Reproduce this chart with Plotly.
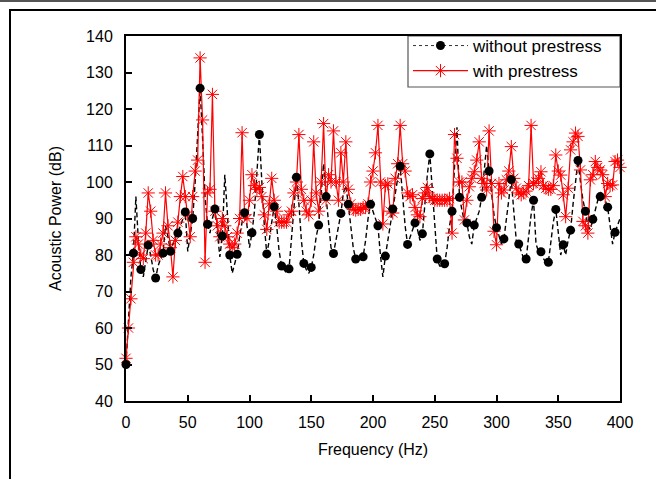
import plotly.graph_objects as go

# Frequency grid (Hz)
freq = list(range(0, 401, 2))

# Acoustic power without prestress (dB)
without_prestress = [
    50, 62, 74, 80.5, 96, 84, 76, 74, 79, 82.7,
    80, 76, 73.7, 77, 79, 80.5, 88, 85, 81, 83,
    85, 86, 88, 90, 91.8, 81, 85, 90, 100, 113,
    125.7, 112, 96, 88.4, 86, 90, 92.6, 86, 79.5, 85.2,
    102, 92, 80, 75, 78, 80.2, 85, 89, 91.6, 88,
    82, 86.1, 92, 103, 113, 100, 88, 80.3, 84, 89,
    93.2, 88, 81, 77, 76, 75, 76.2, 84, 94, 101.3,
    94, 84, 77.7, 76, 75, 76.6, 80, 85, 88.2, 96,
    105, 96, 88, 82, 80.4, 84, 88, 91.4, 97, 99,
    93.9, 88, 82, 78.9, 78, 79, 79.5, 84, 90, 93.9,
    92, 90, 88, 80, 74, 79.7, 84, 89, 92.6, 97,
    101, 104.3, 96, 88, 82.9, 85, 87, 88.8, 87, 84,
    85.8, 94, 102, 107.7, 98, 86, 78.9, 77, 77, 77.6,
    82, 88, 92, 104, 115, 95.8, 92, 89, 88.8, 85,
    83, 88.2, 90, 92, 95.8, 104, 110, 103, 97, 91,
    87.5, 85, 83, 84.4, 90, 96, 100.7, 92, 84, 83,
    81, 79, 78.9, 85, 91, 95, 83, 81, 80.9, 79,
    78, 78, 84, 89, 92.5, 87, 80, 82.8, 80, 84,
    86.8, 94, 101, 105.9, 100, 95, 92, 88, 87, 89.8,
    92, 95, 96, 96, 95, 93.1, 88, 83, 86.2, 88,
    90,
]

# Acoustic power with prestress (dB)
with_prestress = [
    51.7, 60, 68, 78, 85, 83, 80, 79, 86, 97,
    92, 84, 80, 80, 83, 86, 97, 88, 82, 74,
    84, 89, 96, 101.5, 96, 91, 85, 96, 103, 106,
    134, 117, 78, 97, 98, 124, 92, 88, 85, 90,
    88, 85, 83, 82, 83, 86, 90, 113.5, 91, 90,
    95, 102, 99, 98, 98.5, 96, 91, 87, 94, 101,
    95, 92, 89, 89, 89, 89, 91, 92, 97, 100,
    113, 98, 95, 92, 91, 95, 111, 97, 92, 100,
    116, 95, 102, 100, 114, 100, 95, 108, 100, 111,
    98, 94, 92.5, 92.3, 92.5, 92.5, 93, 93, 94, 100,
    103, 108, 115.5, 100, 88.5, 99, 99.5, 92, 91.5, 101,
    105, 115.5, 105, 103, 97, 96, 96.5, 93, 91, 90.5,
    95.5, 97, 98.5, 96, 95.5, 95, 95, 95, 95, 95,
    95, 95.5, 86, 113, 106.5, 100, 100, 89.6, 95, 98.7,
    101, 102.8, 106, 111, 101, 99.6, 97.8, 114, 99.6, 86.5,
    82.8, 99.6, 97, 97.8, 100.6, 103, 109.7, 101, 98.3, 97,
    96.5, 97, 97.5, 99, 115.5, 99.6, 100, 101, 102.8, 99,
    98.3, 98, 98, 99, 107.4, 103, 101.9, 96.5, 90.5, 98.3,
    108.8, 111, 113.4, 112.5, 103.3, 89.2, 88, 86, 100.6, 102,
    105.6, 104, 103.3, 102, 96, 99.6, 99, 99.2, 105.6, 106,
    104,
]

x_ticks = [0, 50, 100, 150, 200, 250, 300, 350, 400]
y_ticks = [40, 50, 60, 70, 80, 90, 100, 110, 120, 130, 140]

FONT = "Liberation Sans, Arial, sans-serif"

fig = go.Figure()

# black dense dashed line
fig.add_trace(go.Scatter(
    x=freq, y=without_prestress, mode="lines",
    line=dict(color="black", width=1.4, dash="5px,3px"),
    showlegend=False, hoverinfo="skip", cliponaxis=False,
))

# red series
fig.add_trace(go.Scatter(
    x=freq, y=with_prestress, mode="lines+markers", name="with prestress",
    line=dict(color="#ff0000", width=1.2),
    marker=dict(symbol="asterisk-open", size=11,
                line=dict(color="rgba(255,90,90,0.7)", width=1)),
    legendrank=2, cliponaxis=False,
))

# black markers every third sample
fig.add_trace(go.Scatter(
    x=freq[::3], y=without_prestress[::3], mode="markers",
    marker=dict(symbol="circle", size=9, color="black"),
    showlegend=False, cliponaxis=False,
))

# legend entry for black series
fig.add_trace(go.Scatter(
    x=[None], y=[None], mode="lines+markers", name="without prestress",
    line=dict(color="#333333", width=1, dash="dot"),
    marker=dict(symbol="circle", size=9, color="black"),
    legendrank=1,
))

# plot-area pixel geometry
L, R, T, B = 126, 620, 36, 401
W, H = R - L, B - T
def px(xp): return (xp - L) / W
def py(yp): return (B - yp) / H

shapes = [
    # outer frame lines
    dict(type="line", xref="paper", yref="paper", x0=px(0), x1=px(656), y0=py(1), y1=py(1),
         line=dict(color="#555555", width=2)),
    dict(type="line", xref="paper", yref="paper", x0=px(9), x1=px(656), y0=py(10), y1=py(10),
         line=dict(color="black", width=2)),
    dict(type="line", xref="paper", yref="paper", x0=px(10), x1=px(10), y0=py(9), y1=py(479),
         line=dict(color="black", width=2)),
    # legend box
    dict(type="rect", xref="paper", yref="paper", x0=px(408), x1=1, y0=py(87), y1=1,
         line=dict(color="#555555", width=1.2), fillcolor="white", layer="below"),
]

fig.update_layout(
    width=656, height=479,
    margin=dict(l=L, r=656 - R, t=T, b=479 - B),
    paper_bgcolor="white", plot_bgcolor="white",
    font=dict(family=FONT, size=16, color="black"),
    shapes=shapes,
    legend=dict(
        x=px(408), xanchor="left", y=py(28), yanchor="top",
        bgcolor="rgba(0,0,0,0)", borderwidth=0,
        font=dict(size=17, family=FONT),
        itemwidth=55, tracegroupgap=0,
    ),
    xaxis=dict(
        range=[0, 400], tickvals=x_ticks, ticks="inside", ticklen=6, tickwidth=1.5,
        tickcolor="black", showline=True, linecolor="black", linewidth=2, mirror=True,
        showgrid=False, zeroline=False, ticklabelstandoff=6,
        title=dict(text="Frequency (Hz)", standoff=14, font=dict(size=16)),
    ),
    yaxis=dict(
        range=[40, 140], tickvals=y_ticks, ticks="inside", ticklen=6, tickwidth=1.5,
        tickcolor="black", showline=True, linecolor="black", linewidth=2, mirror=True,
        showgrid=False, zeroline=False, ticklabelstandoff=8,
        title=dict(text="Acoustic Power (dB)", standoff=20, font=dict(size=16)),
    ),
)

fig.write_html("out.html", config={"displayModeBar": False},
               post_script="document.body.style.margin='0';")
